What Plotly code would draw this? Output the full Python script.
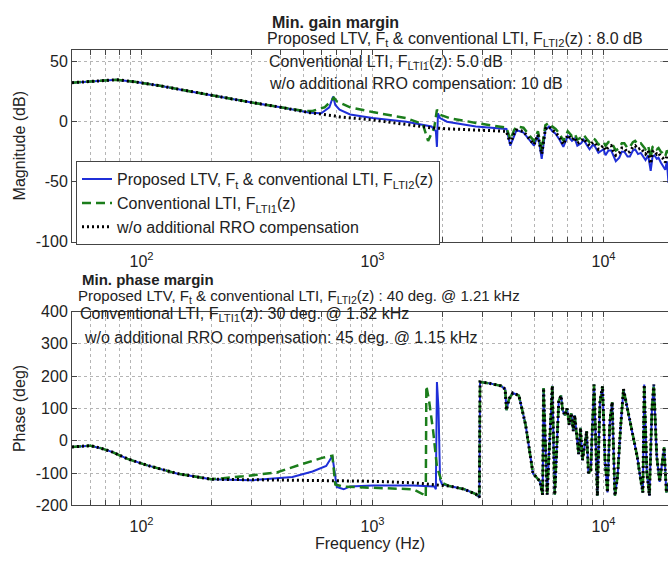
import plotly.graph_objects as go
import math

# ---------------- data ----------------
# Magnitude (dB)
mag_freq_black = [50, 60, 78, 95, 120, 150, 200, 250, 300, 400, 536, 675, 723, 1000, 1400, 1775, 2150, 2800, 3600,
                  3800, 3950, 4100, 4200, 4500, 4800, 5000, 5200, 5400, 5600, 5800, 6000, 6200, 6450, 6700, 7000, 7300,
                  7500, 7700, 8000, 8200, 8500, 8700, 9000, 9200, 9500, 9700, 10000, 10200, 10500, 10800, 11000, 11300,
                  11700, 12000, 12300, 12700, 13000, 13400, 13700, 14100, 14500, 14900, 15200, 15600, 16000, 16300,
                  16600, 17000, 17300, 17700, 18000, 18500, 18800, 19100]
mag_black = [32.5, 33.5, 35, 33, 30, 26.5, 22, 19, 16, 12, 7.5, 5, 4, 1.5, -2, -5, -6, -7, -8,
             -8, -18, -10, -7, -8, -15, -19, -11, -27, -6, -4, -7, -9, -13, -19, -11, -15,
             -13, -18, -16, -14, -18, -20, -17, -18, -23, -22, -20, -24, -21, -20, -24, -28,
             -26, -22, -22, -26, -25, -21, -20, -23, -22, -25, -27, -24, -35, -25,
             -24, -27, -26, -29, -30, -34, -28, -30]

mag_freq_blue = [50, 60, 78, 95, 120, 150, 200, 250, 300, 400, 536, 600, 650, 675, 690, 720, 800, 1000, 1400, 1800,
                 1880, 1900, 1920, 1960, 2100, 2800, 3600,
                 3800, 3950, 4100, 4200, 4500, 4800, 5000, 5200, 5400, 5600, 5800, 6000, 6200, 6450, 6700, 7000, 7300,
                 7500, 7700, 8000, 8200, 8500, 8700, 9000, 9200, 9500, 9700, 10000, 10200, 10500, 10800, 11000, 11300,
                 11700, 12000, 12300, 12700, 13000, 13400, 13700, 14100, 14500, 14900, 15200, 15600, 16000, 16300,
                 16600, 17000, 17300, 17700, 18000, 18500, 18800, 19100]
mag_blue = [32.5, 33.5, 35, 33, 30, 26.5, 22, 19, 16, 12, 7.5, 7, 12, 21, 14, 10, 6, 3, 0, -4,
            -8, -21, 7, 3, 0, -4, -6,
            -6, -20, -11, -7, -9, -16, -20, -11, -31, -7, -4, -8, -10, -15, -21, -12, -16,
            -14, -20, -18, -15, -20, -23, -19, -21, -26, -25, -23, -28, -24, -24, -28, -33,
            -30, -25, -25, -29, -29, -24, -23, -27, -26, -29, -32, -28, -41, -29,
            -28, -31, -30, -34, -36, -40, -33, -51]

mag_freq_green = [50, 60, 78, 95, 120, 150, 200, 250, 300, 400, 500, 550, 620, 660, 680, 700, 800, 1000, 1400, 1650,
                  1740, 1850, 1900, 1950, 2150, 2800, 3600,
                  3800, 3950, 4100, 4200, 4500, 4800, 5000, 5200, 5400, 5600, 5800, 6000, 6200, 6450, 6700, 7000, 7300,
                  7500, 7700, 8000, 8200, 8500, 8700, 9000, 9200, 9500, 9700, 10000, 10200, 10500, 10800, 11000, 11300,
                  11700, 12000, 12300, 12700, 13000, 13400, 13700, 14100, 14500, 14900, 15200, 15600, 16000, 16300,
                  16600, 17000, 17300, 17700, 18000, 18500, 18800, 19100]
mag_green = [32.5, 33.5, 35, 33, 30, 26.5, 22, 19, 16, 12, 9, 9, 12, 17, 20, 17, 12, 8, 3, -2,
             -16, -5, 10, 6, 3, -1, -4,
             -5, -15, -7, -4, -5, -12, -16, -8, -24, -3, -1, -4, -6, -10, -16, -8, -12,
             -10, -15, -13, -11, -15, -17, -14, -15, -19, -18, -17, -20, -17, -17, -20, -24,
             -22, -18, -18, -22, -21, -17, -16, -19, -18, -21, -23, -20, -30, -21,
             -20, -23, -22, -25, -26, -29, -24, -26]

# Phase (deg) - low-frequency parts per series
ph_freq_black_low = [50, 55, 60, 66, 75, 87, 106, 142, 200, 350, 675, 920, 1000, 1500, 1830, 2150, 2500, 2800, 2900]
ph_black_low = [-19, -16, -15, -22, -35, -56, -76, -101, -119, -121, -123, -124, -125, -130, -135, -140, -150, -165, -175]

ph_freq_blue_low = [50, 55, 60, 66, 75, 87, 106, 142, 200, 300, 450, 550, 630, 670, 700, 750, 800, 1000, 1500, 1850,
                    1880, 1900, 1930, 1960, 2000, 2150, 2500, 2800, 2900]
ph_blue_low = [-19, -16, -15, -22, -35, -56, -76, -101, -119, -122, -112, -95, -78, -47, -143, -150, -141, -138, -138, -141,
               -150, 182, 100, -120, -135, -140, -150, -165, -175]

ph_freq_green_low = [50, 55, 60, 66, 75, 87, 106, 142, 200, 275, 385, 480, 610, 670, 690, 750, 1000, 1400, 1500, 1650,
                     1700, 1710, 1760, 1830, 1900, 2000, 2150, 2500, 2800, 2900]
ph_green_low = [-19, -16, -15, -22, -35, -56, -76, -101, -119, -110, -98, -75, -52, -46, -135, -142, -145, -148, -150, -165,
                -175, 170, 120, 30, -80, -130, -140, -150, -165, -175]

# Phase (deg) - high-frequency part (the three curves coincide there)
ph_freq_hf = [2920, 3200, 3600, 3750, 3800, 3900, 4050, 4300, 4600, 4950, 5300, 5450, 5500, 5700, 6000, 6150, 6400,
              6550, 6650, 6800, 6950, 7100, 7250, 7400, 7500, 7650, 7800, 7950, 8100, 8300, 8450, 8600, 8800, 9100,
              9400, 9650, 9900, 10150, 10400, 10650, 10900, 11200, 11500, 11850, 12200, 12600, 13000, 13500, 14000,
              14400, 14800, 15000, 15400, 15800, 16200, 16500, 17000, 17500, 18000, 18300, 18700, 19100]
ph_hf = [182, 178, 170, 160, 95, 130, 148, 140, 49, -101, -125, -167, 163, -167, 170, -167, 124,
         140, 95, 79, 100, 49, 85, 30, 79, 20, -41, 40, -60, -11, 30, -100, -91, 174,
         -170, 120, 169, -60, -160, 60, 120, -170, -110, 40, 160, 110, 60, 0, -50,
         -110, -160, 174, -100, -170, 100, 174, -50, -127, -60, -20, -160, -130]

x_major_vals = [100, 1000, 10000]
x_major_text = ["10<sup>2</sup>", "10<sup>3</sup>", "10<sup>4</sup>"]
x_minor_vals = [50, 60, 70, 80, 90, 200, 300, 400, 500, 600, 700, 800, 900,
                2000, 3000, 4000, 5000, 6000, 7000, 8000, 9000]
mag_ticks = [-100, -50, 0, 50]
mag_tick_text = ["-100", "-50", "0", "50"]
phase_ticks = [-200, -100, 0, 100, 200, 300, 400]
phase_tick_text = ["-200", "-100", "0", "100", "200", "300", "400"]

# ---------------- figure ----------------
W, H = 668, 561
FONT = "Liberation Sans, Arial, Helvetica, sans-serif"
FS = 16
BLUE = "#1f2fd8"
GREEN = "#1b7d1b"
BLACK = "#000000"
AXC = "#444444"
GRIDC = "#b5b5b5"

ph_freq_black = ph_freq_black_low + ph_freq_hf
ph_black = ph_black_low + ph_hf
ph_freq_blue = ph_freq_blue_low + ph_freq_hf
ph_blue = ph_blue_low + ph_hf
ph_freq_green = ph_freq_green_low + ph_freq_hf
ph_green = ph_green_low + ph_hf

names = ["Proposed LTV, F<sub>t</sub> & conventional LTI, F<sub>LTI2</sub>(z)",
         "Conventional LTI, F<sub>LTI1</sub>(z)",
         "w/o additional RRO compensation"]
styles = [dict(color=BLUE, width=2, dash="solid"),
          dict(color=GREEN, width=2.5, dash="9px,5px"),
          dict(color=BLACK, width=3, dash="2px,3px")]

fig = go.Figure()
mag_sets = [(mag_freq_blue, mag_blue), (mag_freq_green, mag_green), (mag_freq_black, mag_black)]
ph_sets = [(ph_freq_blue, ph_blue), (ph_freq_green, ph_green), (ph_freq_black, ph_black)]
for i in range(3):
    fig.add_trace(go.Scatter(x=mag_sets[i][0], y=mag_sets[i][1], mode="lines", name=names[i],
                             line=styles[i], xaxis="x", yaxis="y", showlegend=True))
for i in range(3):
    fig.add_trace(go.Scatter(x=ph_sets[i][0], y=ph_sets[i][1], mode="lines", name=names[i],
                             line=styles[i], xaxis="x2", yaxis="y2", showlegend=False))

px_left, px_right = 72, 668
x0 = math.log10(50)
x1 = x0 + (px_right - px_left) / 231.0
xdom = [px_left / W, px_right / W]

def ydom(top, bottom):
    return [1 - bottom / H, 1 - top / H]

tickfont = dict(size=FS, color="#222", family=FONT)
xaxis_common = dict(type="log", range=[x0, x1], domain=xdom,
                    tickmode="array", tickvals=x_major_vals, ticktext=x_major_text,
                    ticks="inside", ticklen=5, tickcolor=AXC,
                    minor=dict(tickmode="array", tickvals=x_minor_vals, ticks="inside", ticklen=5,
                               tickcolor=AXC, showgrid=True, gridcolor=GRIDC, griddash="dot", gridwidth=1),
                    showline=True, linecolor=AXC, linewidth=1, mirror="ticks",
                    showgrid=True, gridcolor=GRIDC, griddash="dot", gridwidth=1,
                    zeroline=False, tickfont=tickfont)
yaxis_common = dict(ticks="inside", ticklen=5, tickcolor=AXC,
                    showline=True, linecolor=AXC, linewidth=1, mirror=False,
                    showgrid=True, gridcolor=GRIDC, griddash="dot", gridwidth=1,
                    zeroline=False, tickfont=tickfont, tickmode="array")
yright_common = dict(ticks="inside", ticklen=5, tickcolor=AXC, side="right",
                     showline=False, showgrid=False, zeroline=False,
                     showticklabels=False, tickmode="array")

dom1 = ydom(43, 241)
dom2 = ydom(313, 513)

fig.update_layout(
    width=W, height=H, margin=dict(l=0, r=0, t=0, b=0),
    paper_bgcolor="white", plot_bgcolor="white",
    font=dict(family=FONT, size=FS, color="#222"),
    xaxis=dict(**xaxis_common, anchor="y", ticklabelstandoff=5),
    yaxis=dict(**yaxis_common, domain=dom1, range=[-100, 60], tickvals=mag_ticks, ticktext=mag_tick_text,
               anchor="x", title=dict(text="Magnitude (dB)", standoff=6, font=dict(size=FS))),
    yaxis3=dict(**yright_common, domain=dom1, range=[-100, 60], tickvals=mag_ticks,
                overlaying="y", anchor="x"),
    xaxis2=dict(**xaxis_common, anchor="y2", ticklabelstandoff=6,
                title=dict(text="Frequency (Hz)", standoff=4, font=dict(size=FS))),
    yaxis2=dict(**yaxis_common, domain=dom2, range=[-200, 400], tickvals=phase_ticks, ticktext=phase_tick_text,
                anchor="x2", title=dict(text="Phase (deg)", standoff=6, font=dict(size=FS))),
    yaxis4=dict(**yright_common, domain=dom2, range=[-200, 400], tickvals=phase_ticks,
                overlaying="y2", anchor="x2"),
    legend=dict(x=76 / W, y=1 - 158 / H, xanchor="left", yanchor="top",
                bgcolor="white", bordercolor=AXC, borderwidth=1,
                font=dict(size=FS, family=FONT, color="#222"),
                tracegroupgap=0, itemwidth=30),
)

# invisible helpers so the right-hand tick axes are drawn
fig.add_trace(go.Scatter(x=[100], y=[0], mode="markers", marker=dict(opacity=0), xaxis="x", yaxis="y3",
                         showlegend=False, hoverinfo="skip"))
fig.add_trace(go.Scatter(x=[100], y=[0], mode="markers", marker=dict(opacity=0), xaxis="x2", yaxis="y4",
                         showlegend=False, hoverinfo="skip"))

def ann(text, xpx, ypx, bold=False, size=FS):
    fig.add_annotation(text=("<b>%s</b>" % text) if bold else text,
                       xref="paper", yref="paper", x=xpx / W, y=1 - ypx / H,
                       xanchor="left", yanchor="middle", showarrow=False,
                       font=dict(size=size, family=FONT, color="#222"))

ann("Min. gain margin", 270, 15, bold=True)
ann("Proposed LTV, F<sub>t</sub> & conventional LTI, F<sub>LTI2</sub>(z) : 8.0 dB", 265, 32)
ann("Conventional LTI, F<sub>LTI1</sub>(z): 5.0 dB", 267, 56)
ann("w/o additional RRO compensation: 10 dB", 267, 78)

ann("Min. phase margin", 80, 280, bold=True, size=15)
ann("Proposed LTV, F<sub>t</sub> & conventional LTI, F<sub>LTI2</sub>(z) : 40 deg. @ 1.21 kHz", 76, 297, size=15)
ann("Conventional LTI, F<sub>LTI1</sub>(z): 30 deg. @ 1.32 kHz", 78, 316)
ann("w/o additional RRO compensation: 45 deg. @ 1.15 kHz", 82, 340)

fig.write_html("out.html")
